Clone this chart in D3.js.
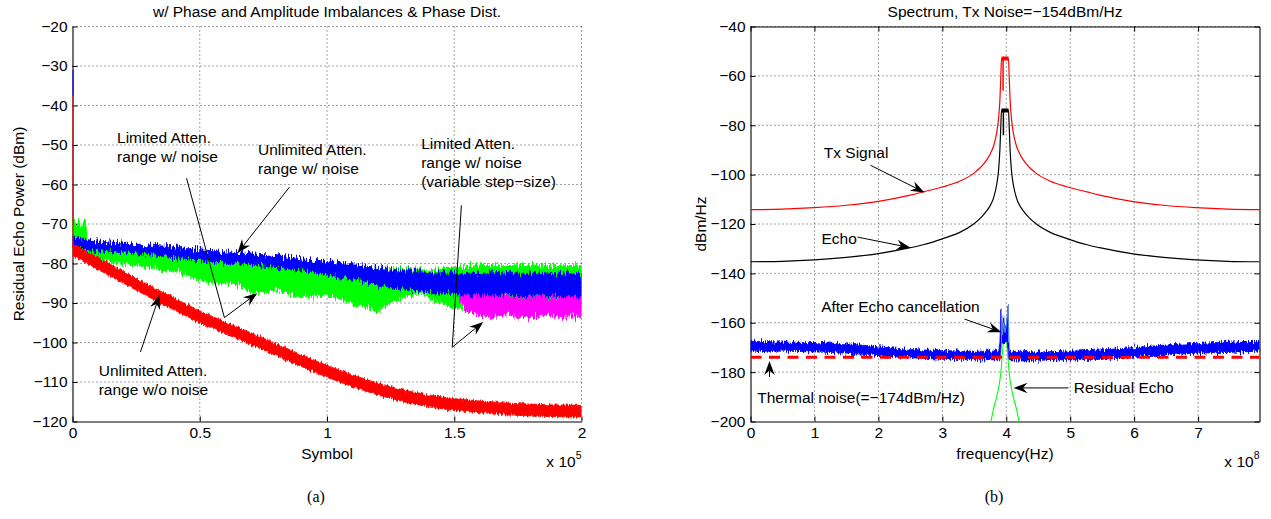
<!DOCTYPE html>
<html>
<head>
<meta charset="utf-8">
<script src="https://cdn.jsdelivr.net/npm/d3@7/dist/d3.min.js"></script>
<style>
  html, body { margin: 0; padding: 0; background: #fff; }
  svg { display: block; }
  text { font-family: "Liberation Sans", Arial, Helvetica, sans-serif; fill: #000; }
</style>
</head>
<body>
<svg id="fig" width="1271" height="519"></svg>
<script>
// ===================== (a) Residual echo power vs. symbol =====================
// symbol index in units of 1e5, power in dBm
const symTicks = [0, 0.5, 1, 1.5, 2];
const symTickLabels = ["0", "0.5", "1", "1.5", "2"];
const powTicks = [-120, -110, -100, -90, -80, -70, -60, -50, -40, -30, -20];
const powTickLabels = ["−120", "−110", "−100", "−90", "−80", "−70", "−60", "−50", "−40", "−30", "−20"];

// Unlimited attenuation range w/o noise (red band)
const redSym = [0, 0.1, 0.2, 0.3, 0.4, 0.5, 0.6, 0.7, 0.8, 0.9, 1.0, 1.1, 1.2, 1.3, 1.4, 1.5, 1.6, 1.7, 1.8, 1.9, 2.0];
const redHi  = [-75, -78.5, -82, -85.5, -88.8, -92, -94.8, -97.5, -100.3, -103.1, -105.8, -108.2, -110.3, -112, -113.3, -114.2, -114.8, -115.3, -115.6, -115.8, -115.9];
const redLo  = [-78, -81.5, -85, -88.5, -91.8, -95, -97.8, -100.5, -103.3, -106.1, -108.8, -111.2, -113.3, -115, -116.3, -117.2, -117.8, -118.3, -118.6, -118.8, -118.9];
const redInit = [-37.5, -76];      // start-up transient at symbol 0

// Unlimited attenuation range w/ noise (blue band)
const blueSym = [0, 0.1, 0.2, 0.3, 0.4, 0.5, 0.6, 0.7, 0.8, 0.9, 1.0, 1.1, 1.2, 1.3, 1.4, 1.5, 1.6, 1.7, 1.8, 1.9, 2.0];
const blueHi  = [-73.5, -74.3, -74.8, -75.3, -75.8, -76.5, -77, -77.5, -78, -78.8, -79.5, -80.3, -81, -81.8, -82.3, -82.5, -82.5, -82.5, -82.5, -82.5, -82.5];
const blueLo  = [-76, -76.8, -77.3, -77.8, -78.5, -79.2, -79.8, -80.3, -81, -81.8, -82.8, -84, -85.5, -86.5, -87.3, -87.8, -88, -88, -88.2, -88.3, -88.5];
const blueInit = [-31, -37.5];

// Limited attenuation range w/ noise (green band)
const greenSym = [0, 0.005, 0.02, 0.025, 0.035, 0.045, 0.05, 0.055, 0.06, 0.1, 0.2, 0.3, 0.4, 0.5, 0.55, 0.6, 0.66, 0.7, 0.75, 0.8, 0.85, 0.9, 1.0, 1.05, 1.1, 1.15, 1.2, 1.25, 1.3, 1.37, 1.42, 1.5, 1.6, 1.7, 1.8, 1.9, 2.0];
const greenHi  = [-69.5, -69.5, -70, -68.8, -71, -69, -69, -72, -75, -75.5, -76.5, -77.3, -78, -79, -79.5, -80, -80.3, -80.5, -80.5, -81, -81.2, -81.5, -82, -82, -82, -81.5, -81, -81, -81.3, -81.5, -81.5, -81, -80.5, -80.5, -80.5, -80.5, -80.5];
const greenLo  = [-76.5, -76.5, -77, -77.5, -78, -78.5, -78.5, -78.5, -78.8, -79.2, -80, -81, -82, -84, -85, -85, -85.5, -87.5, -87.5, -86.5, -87.5, -88.5, -88, -89, -90.5, -91, -92, -90, -88.5, -87.5, -89.5, -91.3, -91.5, -91.5, -91.5, -91.5, -91.5];

// Limited attenuation range w/ noise, variable step-size (magenta band)
const magSym = [1.52, 1.55, 1.6, 1.65, 1.7, 1.75, 1.8, 1.85, 1.9, 1.95, 2.0];
const magHi  = [-88, -88, -88, -88, -88.5, -88.5, -88.5, -88.5, -89, -88.5, -88.5];
const magLo  = [-89.5, -92, -93.3, -93.5, -93, -93.5, -93.8, -93, -93.5, -93.3, -93.5];

// ===================== (b) Spectrum =====================
// frequency in units of 1e8 Hz, level in dBm/Hz
const freqTicks = [0, 1, 2, 3, 4, 5, 6, 7];
const freqTickLabels = ["0", "1", "2", "3", "4", "5", "6", "7"];
const psdTicks = [-200, -180, -160, -140, -120, -100, -80, -60, -40];
const psdTickLabels = ["−200", "−180", "−160", "−140", "−120", "−100", "−80", "−60", "−40"];

const specFreq  = [0, 0.5, 1, 1.5, 2, 2.5, 2.7, 3, 3.28, 3.5, 3.6, 3.7, 3.75, 3.8, 3.85, 3.88, 3.9, 3.915, 3.925, 4.035, 4.045, 4.06, 4.08, 4.11, 4.16, 4.21, 4.26, 4.36, 4.46, 4.68, 4.96, 5.26, 5.46, 5.96, 6.46, 6.96, 7.46, 7.96];
const txLevel   = [-114.2, -114, -113.4, -112.4, -110.8, -108.3, -107, -105, -102.6, -99.3, -97, -93.8, -91.5, -88.5, -83, -77, -70, -60, -53, -53, -60, -70, -77, -83, -88.5, -91.5, -93.8, -97, -99.3, -102.6, -105, -107, -108.3, -110.8, -112.4, -113.4, -114, -114.2];
const echoLevel = [-135.3, -135.1, -134.5, -133.5, -132, -129.6, -128.4, -126, -123.3, -119.8, -117.5, -114.5, -112.5, -109.5, -104, -98, -90, -80, -74, -74, -80, -90, -98, -104, -109.5, -112.5, -114.5, -117.5, -119.8, -123.3, -126, -128.4, -129.6, -132, -133.5, -134.5, -135.1, -135.3];
const txCapFreq = [3.925, 4.035], txCapLevel = [-53, -53];
const txStemFreq = [3.95, 3.95], txStemLevel = [-53, -66];
const echoCapFreq = [3.925, 4.035], echoCapLevel = [-74, -74];
const echoStemFreq = [3.955, 3.955], echoStemLevel = [-74, -84];

// after echo cancellation (blue band)
const aecFreq = [0, 0.5, 1, 1.5, 2, 2.5, 3, 3.5, 3.88, 3.9, 3.91, 3.915, 3.925, 3.94, 3.96, 3.98, 4.0, 4.015, 4.025, 4.035, 4.045, 4.5, 5, 5.5, 6, 6.5, 7, 7.5, 7.96];
const aecHi   = [-167.5, -167.8, -168, -168.5, -169.7, -170.8, -171.3, -171.5, -171.5, -168, -160, -155, -160, -162, -158, -163, -160, -158, -152.5, -160, -171.5, -171.8, -171.5, -171, -170, -169, -168.3, -167.8, -167.5];
const aecLo   = [-171.5, -171.5, -171.8, -172.3, -173.3, -174.2, -174.8, -175, -175, -175, -172, -170, -169, -168, -168, -168, -168, -168.5, -170, -172, -175, -175.2, -175, -174.8, -174, -173, -172.3, -172, -171.5];
const aecTraceFreq  = [3.925, 3.93, 3.94, 3.96, 3.98, 4.0, 4.02, 4.03, 4.035];
const aecTraceLevel = [-170, -157, -165, -160, -164, -161, -156, -153, -168];

// residual echo (green)
const resFreq  = [3.76, 3.8, 3.85, 3.89, 3.92, 3.94, 3.96, 4.0, 4.02, 4.04, 4.07, 4.11, 4.16, 4.2];
const resLevel = [-200, -195, -190, -185, -179, -172, -168, -168, -172, -179, -185, -190, -195, -200];

// thermal noise floor
const thermalFreq = [0, 7.96];
const thermalLevel = [-174, -174];

// ===================== drawing =====================
const svg = d3.select("#fig");
const FS = 15.5;

const defs = svg.append("defs");
function jagFilter(id, scale, fx, fy, seed) {
  const f = defs.append("filter").attr("id", id)
    .attr("x", "-0.01").attr("y", "-0.3").attr("width", "1.02").attr("height", "1.6")
    .attr("color-interpolation-filters", "sRGB");
  f.append("feTurbulence").attr("type", "fractalNoise")
    .attr("baseFrequency", `${fx} ${fy}`).attr("numOctaves", 2).attr("seed", seed).attr("result", "t");
  f.append("feColorMatrix").attr("in", "t").attr("type", "matrix")
    .attr("values", "1 0 0 0 0  0 0 0 0 0.5  0 0 0 0 0  0 0 0 0 1").attr("result", "m");
  f.append("feDisplacementMap").attr("in", "SourceGraphic").attr("in2", "m")
    .attr("scale", scale).attr("xChannelSelector", "G").attr("yChannelSelector", "R");
}
jagFilter("jagStrong", 14, 0.6, 0.12, 3);
jagFilter("jagSoft", 6, 0.6, 0.12, 9);
jagFilter("jagMid", 9, 0.7, 0.15, 5);

function makePanel(cfg) {
  const x = d3.scaleLinear().domain(cfg.xDomain).range([cfg.left, cfg.right]);
  const y = d3.scaleLinear().domain(cfg.yDomain).range([cfg.bottom, cfg.top]);
  const g = svg.append("g");

  defs.append("clipPath").attr("id", cfg.id + "-clip").append("rect")
    .attr("x", cfg.left).attr("y", cfg.top)
    .attr("width", cfg.right - cfg.left).attr("height", cfg.bottom - cfg.top);

  // dotted grid
  const grid = g.append("g").attr("stroke", "#444").attr("stroke-width", 1).attr("stroke-dasharray", "1,3");
  cfg.xTicks.filter(d => d > cfg.xDomain[0]).forEach(d => {
    grid.append("line").attr("x1", x(d)).attr("x2", x(d)).attr("y1", cfg.top).attr("y2", cfg.bottom);
  });
  cfg.yTicks.filter(d => d > cfg.yDomain[0]).forEach(d => {
    grid.append("line").attr("x1", cfg.left).attr("x2", cfg.right).attr("y1", y(d)).attr("y2", y(d));
  });

  // axes with inward ticks
  const axes = g.append("g");
  const styleAxis = sel => {
    sel.attr("font-family", null).attr("font-size", null);
    sel.selectAll("text").style("font-size", FS + "px");
    sel.select(".domain").attr("stroke-width", 1.1);
  };
  axes.append("g").attr("transform", `translate(0,${cfg.bottom})`)
    .call(d3.axisBottom(x).tickValues(cfg.xTicks).tickSize(-5).tickSizeOuter(0).tickPadding(5)
      .tickFormat((d, i) => cfg.xLabels[i])).call(styleAxis);
  axes.append("g").attr("transform", `translate(${cfg.left},0)`)
    .call(d3.axisLeft(y).tickValues(cfg.yTicks).tickSize(-5).tickSizeOuter(0).tickPadding(5)
      .tickFormat((d, i) => cfg.yLabels[i])).call(styleAxis);
  if (cfg.box) {
    axes.append("g").attr("transform", `translate(0,${cfg.top})`)
      .call(d3.axisTop(x).tickValues(cfg.xTicks).tickSize(-5).tickSizeOuter(0).tickFormat(""))
      .call(styleAxis);
    axes.append("g").attr("transform", `translate(${cfg.right},0)`)
      .call(d3.axisRight(y).tickValues(cfg.yTicks).tickSize(-5).tickSizeOuter(0).tickFormat(""))
      .call(styleAxis);
  }

  const plot = g.append("g").attr("clip-path", `url(#${cfg.id}-clip)`);
  const notes = g.append("g");

  // titles and labels
  g.append("text").attr("x", (cfg.left + cfg.right) / 2).attr("y", 16.5)
    .attr("text-anchor", "middle").style("font-size", FS + "px").text(cfg.title);
  g.append("text").attr("x", (cfg.left + cfg.right) / 2).attr("y", 458.5)
    .attr("text-anchor", "middle").style("font-size", FS + "px").text(cfg.xTitle);
  g.append("text").attr("transform", `translate(${cfg.yTitleX},${(cfg.top + cfg.bottom) / 2}) rotate(-90)`)
    .attr("text-anchor", "middle").style("font-size", FS + "px").text(cfg.yTitle);
  const mult = g.append("text").attr("x", cfg.right).attr("y", 467).attr("text-anchor", "end")
    .style("font-size", FS + "px");
  mult.append("tspan").text("x 10");
  mult.append("tspan").attr("dy", -8).style("font-size", "10.5px").text(cfg.exponent);
  g.append("text").attr("x", (cfg.left + cfg.right) / 2 - 11).attr("y", 502)
    .attr("text-anchor", "middle")
    .style("font-family", '"Liberation Serif", "Times New Roman", serif').style("font-size", "16px")
    .text(cfg.caption);

  return { x, y, plot, notes };
}

function rows(xs, ...cols) { return xs.map((v, i) => [v, ...cols.map(c => c[i])]); }

function band(p, xs, hi, lo, color, filter) {
  const area = d3.area().x(d => p.x(d[0])).y0(d => p.y(d[2])).y1(d => p.y(d[1]));
  const path = p.plot.append("path").datum(rows(xs, hi, lo)).attr("d", area)
    .attr("fill", color).attr("stroke", color).attr("stroke-width", 0.8);
  if (filter) path.attr("filter", `url(#${filter})`);
  return path;
}
function line(p, xs, ys, color, width, opts = {}) {
  const gen = d3.line().x(d => p.x(d[0])).y(d => p.y(d[1]));
  if (opts.smooth) gen.curve(d3.curveMonotoneX);
  const path = p.plot.append("path").datum(rows(xs, ys)).attr("d", gen)
    .attr("fill", "none").attr("stroke", color).attr("stroke-width", width);
  if (opts.dash) path.attr("stroke-dasharray", opts.dash);
  return path;
}

function annotate(p, note) {
  const t = p.notes.append("text").style("font-size", FS + "px");
  note.lines.forEach((s, i) => {
    t.append("tspan").attr("x", p.x(note.at[0])).attr("y", p.y(note.at[1]) + i * 18.6).text(s);
  });
}
function arrow(p, pts) {
  const P = pts.map(d => [p.x(d[0]), p.y(d[1])]);
  const [x1, y1] = P[P.length - 2], [x2, y2] = P[P.length - 1];
  const L = Math.hypot(x2 - x1, y2 - y1), ux = (x2 - x1) / L, uy = (y2 - y1) / L;
  const len = 14, half = 5.2, notch = 4.5;
  const bx = x2 - ux * len, by = y2 - uy * len;
  const nx = -uy, ny = ux;
  const shaft = P.slice(0, -1).concat([[x2 - ux * (len - notch), y2 - uy * (len - notch)]]);
  p.notes.append("path").attr("d", d3.line()(shaft)).attr("fill", "none").attr("stroke", "#000").attr("stroke-width", 1);
  p.notes.append("path")
    .attr("d", `M${x2},${y2}L${bx + nx * half},${by + ny * half}L${x2 - ux * (len - notch)},${y2 - uy * (len - notch)}L${bx - nx * half},${by - ny * half}Z`)
    .attr("fill", "#000");
}

// ---------- panel (a) ----------
const A = makePanel({
  id: "pa", left: 72.5, right: 581.5, top: 26.5, bottom: 421.5,
  xDomain: [0, 2], yDomain: [-120, -20],
  xTicks: symTicks, xLabels: symTickLabels, yTicks: powTicks, yLabels: powTickLabels,
  box: false,
  title: "w/ Phase and Amplitude Imbalances & Phase Dist.",
  xTitle: "Symbol", yTitle: "Residual Echo Power (dBm)", yTitleX: 23.5,
  exponent: "5", caption: "(a)"
});
band(A, greenSym, greenHi, greenLo, "#00ff00", "jagStrong");
band(A, magSym, magHi, magLo, "#ff00ff", "jagStrong");
band(A, blueSym, blueHi, blueLo, "#0000ff", "jagStrong");
band(A, redSym, redHi, redLo, "#ff0000", "jagSoft");
line(A, [0, 0], blueInit, "#0000ff", 2.2);
line(A, [0, 0], redInit, "#ff0000", 2.2);

annotate(A, { lines: ["Limited Atten.", "range w/ noise"], at: [0.175, -49.6] });
annotate(A, { lines: ["Unlimited Atten.", "range w/ noise"], at: [0.729, -52.6] });
annotate(A, { lines: ["Limited Atten.", "range w/ noise", "(variable step−size)"], at: [1.37, -51.1] });
annotate(A, { lines: ["Unlimited Atten.", "range w/o noise"], at: [0.103, -108.5] });
arrow(A, [[0.448, -58.4], [0.597, -93.7], [0.726, -87.5]]);
arrow(A, [[0.852, -60.7], [0.648, -77.4]]);
arrow(A, [[1.528, -65.3], [1.492, -101.2], [1.614, -94.8]]);
arrow(A, [[0.267, -102.4], [0.342, -88.0]]);

// ---------- panel (b) ----------
const B = makePanel({
  id: "pb", left: 750.5, right: 1259.5, top: 26.5, bottom: 421.5,
  xDomain: [0, 7.96], yDomain: [-200, -40],
  xTicks: freqTicks, xLabels: freqTickLabels, yTicks: psdTicks, yLabels: psdTickLabels,
  box: true,
  title: "Spectrum, Tx Noise=−154dBm/Hz",
  xTitle: "frequency(Hz)", yTitle: "dBm/Hz", yTitleX: 705.5,
  exponent: "8", caption: "(b)"
});
line(B, specFreq, txLevel, "#ff0000", 1.2, { smooth: true });
line(B, txCapFreq, txCapLevel, "#ff0000", 4);
line(B, txStemFreq, txStemLevel, "#ff0000", 1.5);
line(B, specFreq, echoLevel, "#000000", 1.2, { smooth: true });
line(B, echoCapFreq, echoCapLevel, "#000000", 4);
line(B, echoStemFreq, echoStemLevel, "#000000", 1.5);
line(B, resFreq, resLevel, "#00ff00", 1.1, { smooth: true });
band(B, aecFreq, aecHi, aecLo, "#0000ff", "jagMid");
line(B, aecTraceFreq, aecTraceLevel, "#5b8fdc", 1);
line(B, thermalFreq, thermalLevel, "#ff0000", 3, { dash: "11,7.5" });

annotate(B, { lines: ["Tx Signal"], at: [1.146, -93.2] });
annotate(B, { lines: ["Echo"], at: [1.11, -127.9] });
annotate(B, { lines: ["After Echo cancellation"], at: [1.105, -155.8] });
annotate(B, { lines: ["Thermal noise(=−174dBm/Hz)"], at: [0.105, -192.4] });
annotate(B, { lines: ["Residual Echo"], at: [5.056, -188.6] });
arrow(B, [[1.876, -96.2], [2.721, -107.2]]);
arrow(B, [[1.673, -125.3], [2.502, -129.6]]);
arrow(B, [[3.346, -158.5], [3.925, -163.8]]);
arrow(B, [[0.297, -182.0], [0.297, -175.5]]);
arrow(B, [[4.973, -186.4], [4.113, -186.4]]);
</script>
</body>
</html>
